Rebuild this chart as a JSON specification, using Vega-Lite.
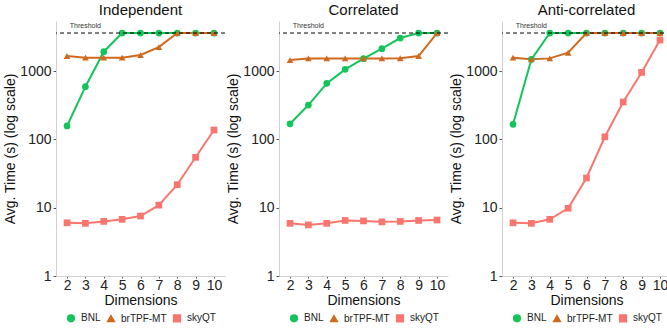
{
  "$schema": "https://vega.github.io/schema/vega-lite/v6.json",
  "padding": {"left": 3, "top": 3, "right": 0, "bottom": 0},
  "background": "white",
  "config": {
    "font": "Liberation Sans",
    "view": {"stroke": null},
    "concat": {"spacing": 0},
    "axis": {"grid": false, "domainColor": "#d0d0d0", "tickColor": "#555", "tickSize": 3, "labelFontSize": 14, "labelColor": "#222", "titleFontSize": 14, "titleFontWeight": "normal", "titleColor": "#111"},
    "axisX": {"tickSize": 2, "labelPadding": 0, "titlePadding": 1},
    "axisY": {"labelPadding": 2, "titlePadding": 2},
    "title": {"fontSize": 15, "fontWeight": "normal", "color": "#111", "offset": 3},
    "legend": {"title": null, "orient": "none", "direction": "horizontal", "legendX": 10, "legendY": 292, "labelFontSize": 10, "symbolSize": 45, "labelColor": "#222", "columnPadding": 3, "labelOffset": 5}
  },
  "datasets": {
    "times": [
      {"dist": "Independent", "dim": 2, "algo": "BNL", "time": 157},
      {"dist": "Independent", "dim": 3, "algo": "BNL", "time": 590},
      {"dist": "Independent", "dim": 4, "algo": "BNL", "time": 1920},
      {"dist": "Independent", "dim": 5, "algo": "BNL", "time": 3600},
      {"dist": "Independent", "dim": 6, "algo": "BNL", "time": 3600},
      {"dist": "Independent", "dim": 7, "algo": "BNL", "time": 3600},
      {"dist": "Independent", "dim": 8, "algo": "BNL", "time": 3600},
      {"dist": "Independent", "dim": 9, "algo": "BNL", "time": 3600},
      {"dist": "Independent", "dim": 10, "algo": "BNL", "time": 3600},
      {"dist": "Independent", "dim": 2, "algo": "brTPF-MT", "time": 1660},
      {"dist": "Independent", "dim": 3, "algo": "brTPF-MT", "time": 1570},
      {"dist": "Independent", "dim": 4, "algo": "brTPF-MT", "time": 1570},
      {"dist": "Independent", "dim": 5, "algo": "brTPF-MT", "time": 1570},
      {"dist": "Independent", "dim": 6, "algo": "brTPF-MT", "time": 1715},
      {"dist": "Independent", "dim": 7, "algo": "brTPF-MT", "time": 2245},
      {"dist": "Independent", "dim": 8, "algo": "brTPF-MT", "time": 3600},
      {"dist": "Independent", "dim": 9, "algo": "brTPF-MT", "time": 3600},
      {"dist": "Independent", "dim": 10, "algo": "brTPF-MT", "time": 3600},
      {"dist": "Independent", "dim": 2, "algo": "skyQT", "time": 6.0},
      {"dist": "Independent", "dim": 3, "algo": "skyQT", "time": 5.9},
      {"dist": "Independent", "dim": 4, "algo": "skyQT", "time": 6.3},
      {"dist": "Independent", "dim": 5, "algo": "skyQT", "time": 6.75},
      {"dist": "Independent", "dim": 6, "algo": "skyQT", "time": 7.55},
      {"dist": "Independent", "dim": 7, "algo": "skyQT", "time": 10.9},
      {"dist": "Independent", "dim": 8, "algo": "skyQT", "time": 21.7},
      {"dist": "Independent", "dim": 9, "algo": "skyQT", "time": 54.6},
      {"dist": "Independent", "dim": 10, "algo": "skyQT", "time": 137},
      {"dist": "Correlated", "dim": 2, "algo": "BNL", "time": 169},
      {"dist": "Correlated", "dim": 3, "algo": "BNL", "time": 318},
      {"dist": "Correlated", "dim": 4, "algo": "BNL", "time": 660},
      {"dist": "Correlated", "dim": 5, "algo": "BNL", "time": 1058},
      {"dist": "Correlated", "dim": 6, "algo": "BNL", "time": 1515},
      {"dist": "Correlated", "dim": 7, "algo": "BNL", "time": 2123},
      {"dist": "Correlated", "dim": 8, "algo": "BNL", "time": 3041},
      {"dist": "Correlated", "dim": 9, "algo": "BNL", "time": 3600},
      {"dist": "Correlated", "dim": 10, "algo": "BNL", "time": 3600},
      {"dist": "Correlated", "dim": 2, "algo": "brTPF-MT", "time": 1449},
      {"dist": "Correlated", "dim": 3, "algo": "brTPF-MT", "time": 1532},
      {"dist": "Correlated", "dim": 4, "algo": "brTPF-MT", "time": 1532},
      {"dist": "Correlated", "dim": 5, "algo": "brTPF-MT", "time": 1532},
      {"dist": "Correlated", "dim": 6, "algo": "brTPF-MT", "time": 1532},
      {"dist": "Correlated", "dim": 7, "algo": "brTPF-MT", "time": 1532},
      {"dist": "Correlated", "dim": 8, "algo": "brTPF-MT", "time": 1540},
      {"dist": "Correlated", "dim": 9, "algo": "brTPF-MT", "time": 1660},
      {"dist": "Correlated", "dim": 10, "algo": "brTPF-MT", "time": 3600},
      {"dist": "Correlated", "dim": 2, "algo": "skyQT", "time": 5.9},
      {"dist": "Correlated", "dim": 3, "algo": "skyQT", "time": 5.6},
      {"dist": "Correlated", "dim": 4, "algo": "skyQT", "time": 5.9},
      {"dist": "Correlated", "dim": 5, "algo": "skyQT", "time": 6.5},
      {"dist": "Correlated", "dim": 6, "algo": "skyQT", "time": 6.4},
      {"dist": "Correlated", "dim": 7, "algo": "skyQT", "time": 6.2},
      {"dist": "Correlated", "dim": 8, "algo": "skyQT", "time": 6.3},
      {"dist": "Correlated", "dim": 9, "algo": "skyQT", "time": 6.5},
      {"dist": "Correlated", "dim": 10, "algo": "skyQT", "time": 6.6},
      {"dist": "Anti-correlated", "dim": 2, "algo": "BNL", "time": 166},
      {"dist": "Anti-correlated", "dim": 3, "algo": "BNL", "time": 1482},
      {"dist": "Anti-correlated", "dim": 4, "algo": "BNL", "time": 3600},
      {"dist": "Anti-correlated", "dim": 5, "algo": "BNL", "time": 3600},
      {"dist": "Anti-correlated", "dim": 6, "algo": "BNL", "time": 3600},
      {"dist": "Anti-correlated", "dim": 7, "algo": "BNL", "time": 3600},
      {"dist": "Anti-correlated", "dim": 8, "algo": "BNL", "time": 3600},
      {"dist": "Anti-correlated", "dim": 9, "algo": "BNL", "time": 3600},
      {"dist": "Anti-correlated", "dim": 10, "algo": "BNL", "time": 3600},
      {"dist": "Anti-correlated", "dim": 2, "algo": "brTPF-MT", "time": 1567},
      {"dist": "Anti-correlated", "dim": 3, "algo": "brTPF-MT", "time": 1482},
      {"dist": "Anti-correlated", "dim": 4, "algo": "brTPF-MT", "time": 1532},
      {"dist": "Anti-correlated", "dim": 5, "algo": "brTPF-MT", "time": 1854},
      {"dist": "Anti-correlated", "dim": 6, "algo": "brTPF-MT", "time": 3600},
      {"dist": "Anti-correlated", "dim": 7, "algo": "brTPF-MT", "time": 3600},
      {"dist": "Anti-correlated", "dim": 8, "algo": "brTPF-MT", "time": 3600},
      {"dist": "Anti-correlated", "dim": 9, "algo": "brTPF-MT", "time": 3600},
      {"dist": "Anti-correlated", "dim": 10, "algo": "brTPF-MT", "time": 3600},
      {"dist": "Anti-correlated", "dim": 2, "algo": "skyQT", "time": 6.0},
      {"dist": "Anti-correlated", "dim": 3, "algo": "skyQT", "time": 5.9},
      {"dist": "Anti-correlated", "dim": 4, "algo": "skyQT", "time": 6.75},
      {"dist": "Anti-correlated", "dim": 5, "algo": "skyQT", "time": 9.8},
      {"dist": "Anti-correlated", "dim": 6, "algo": "skyQT", "time": 27.2},
      {"dist": "Anti-correlated", "dim": 7, "algo": "skyQT", "time": 109},
      {"dist": "Anti-correlated", "dim": 8, "algo": "skyQT", "time": 352},
      {"dist": "Anti-correlated", "dim": 9, "algo": "skyQT", "time": 955},
      {"dist": "Anti-correlated", "dim": 10, "algo": "skyQT", "time": 2842}
    ],
    "threshold": [{"limit": 3600, "dim": 3, "label": "Threshold"}]
  },
  "resolve": {"legend": {"color": "independent", "shape": "independent"}, "scale": {"color": "independent", "shape": "independent"}},
  "hconcat": [
    {
      "title": "Independent",
      "width": 169, "height": 255,
      "layer": [
        {"data": {"name": "times"}, "transform": [{"filter": "datum.dist === 'Independent'"}],
         "mark": {"type": "line", "strokeWidth": 2},
         "encoding": {
          "x": {"field": "dim", "type": "quantitative", "scale": {"domain": [1.4, 10.6], "nice": false, "zero": false}, "axis": {"values": [2,3,4,5,6,7,8,9,10], "labelOverlap": false, "title": "Dimensions"}},
          "y": {"field": "time", "type": "quantitative", "scale": {"type": "log", "domain": [1, 5400], "nice": false}, "axis": {"values": [1,10,100,1000], "format": "d", "title": "Avg. Time (s) (log scale)"}},
          "color": {"field": "algo", "type": "nominal", "scale": {"domain": ["BNL","brTPF-MT","skyQT"], "range": ["#13C45A","#D0691E","#F8766D"]}}}},
        {"data": {"name": "times"}, "transform": [{"filter": "datum.dist === 'Independent'"}],
         "mark": {"type": "point", "filled": true, "opacity": 1, "size": 45},
         "encoding": {
          "x": {"field": "dim", "type": "quantitative", "axis": {"values": [2,3,4,5,6,7,8,9,10], "labelOverlap": false, "title": "Dimensions"}},
          "y": {"field": "time", "type": "quantitative", "axis": {"values": [1,10,100,1000], "format": "d", "title": "Avg. Time (s) (log scale)"}},
          "color": {"field": "algo", "type": "nominal"},
          "shape": {"field": "algo", "type": "nominal", "scale": {"domain": ["BNL","brTPF-MT","skyQT"], "range": ["circle","triangle-up","square"]}}}},
        {"data": {"name": "threshold"}, "mark": {"type": "rule", "strokeDash": [4, 3], "color": "black", "strokeWidth": 1}, "encoding": {"y": {"field": "limit", "type": "quantitative", "axis": {"values": [1,10,100,1000], "format": "d", "title": "Avg. Time (s) (log scale)"}}}},
        {"data": {"name": "threshold"}, "mark": {"type": "text", "fontSize": 7, "color": "#333", "dy": -7}, "encoding": {"x": {"field": "dim", "type": "quantitative", "axis": {"values": [2,3,4,5,6,7,8,9,10], "labelOverlap": false, "title": "Dimensions"}}, "y": {"field": "limit", "type": "quantitative", "axis": {"values": [1,10,100,1000], "format": "d", "title": "Avg. Time (s) (log scale)"}}, "text": {"field": "label"}}}
      ]
    },
    {
      "title": "Correlated",
      "width": 169, "height": 255,
      "layer": [
        {"data": {"name": "times"}, "transform": [{"filter": "datum.dist === 'Correlated'"}],
         "mark": {"type": "line", "strokeWidth": 2},
         "encoding": {
          "x": {"field": "dim", "type": "quantitative", "scale": {"domain": [1.4, 10.6], "nice": false, "zero": false}, "axis": {"values": [2,3,4,5,6,7,8,9,10], "labelOverlap": false, "title": "Dimensions"}},
          "y": {"field": "time", "type": "quantitative", "scale": {"type": "log", "domain": [1, 5400], "nice": false}, "axis": {"values": [1,10,100,1000], "format": "d", "title": "Avg. Time (s) (log scale)"}},
          "color": {"field": "algo", "type": "nominal", "scale": {"domain": ["BNL","brTPF-MT","skyQT"], "range": ["#13C45A","#D0691E","#F8766D"]}}}},
        {"data": {"name": "times"}, "transform": [{"filter": "datum.dist === 'Correlated'"}],
         "mark": {"type": "point", "filled": true, "opacity": 1, "size": 45},
         "encoding": {
          "x": {"field": "dim", "type": "quantitative", "axis": {"values": [2,3,4,5,6,7,8,9,10], "labelOverlap": false, "title": "Dimensions"}},
          "y": {"field": "time", "type": "quantitative", "axis": {"values": [1,10,100,1000], "format": "d", "title": "Avg. Time (s) (log scale)"}},
          "color": {"field": "algo", "type": "nominal"},
          "shape": {"field": "algo", "type": "nominal", "scale": {"domain": ["BNL","brTPF-MT","skyQT"], "range": ["circle","triangle-up","square"]}}}},
        {"data": {"name": "threshold"}, "mark": {"type": "rule", "strokeDash": [4, 3], "color": "black", "strokeWidth": 1}, "encoding": {"y": {"field": "limit", "type": "quantitative", "axis": {"values": [1,10,100,1000], "format": "d", "title": "Avg. Time (s) (log scale)"}}}},
        {"data": {"name": "threshold"}, "mark": {"type": "text", "fontSize": 7, "color": "#333", "dy": -7}, "encoding": {"x": {"field": "dim", "type": "quantitative", "axis": {"values": [2,3,4,5,6,7,8,9,10], "labelOverlap": false, "title": "Dimensions"}}, "y": {"field": "limit", "type": "quantitative", "axis": {"values": [1,10,100,1000], "format": "d", "title": "Avg. Time (s) (log scale)"}}, "text": {"field": "label"}}}
      ]
    },
    {
      "title": "Anti-correlated",
      "width": 169, "height": 255,
      "layer": [
        {"data": {"name": "times"}, "transform": [{"filter": "datum.dist === 'Anti-correlated'"}],
         "mark": {"type": "line", "strokeWidth": 2},
         "encoding": {
          "x": {"field": "dim", "type": "quantitative", "scale": {"domain": [1.4, 10.6], "nice": false, "zero": false}, "axis": {"values": [2,3,4,5,6,7,8,9,10], "labelOverlap": false, "title": "Dimensions"}},
          "y": {"field": "time", "type": "quantitative", "scale": {"type": "log", "domain": [1, 5400], "nice": false}, "axis": {"values": [1,10,100,1000], "format": "d", "title": "Avg. Time (s) (log scale)"}},
          "color": {"field": "algo", "type": "nominal", "scale": {"domain": ["BNL","brTPF-MT","skyQT"], "range": ["#13C45A","#D0691E","#F8766D"]}}}},
        {"data": {"name": "times"}, "transform": [{"filter": "datum.dist === 'Anti-correlated'"}],
         "mark": {"type": "point", "filled": true, "opacity": 1, "size": 45},
         "encoding": {
          "x": {"field": "dim", "type": "quantitative", "axis": {"values": [2,3,4,5,6,7,8,9,10], "labelOverlap": false, "title": "Dimensions"}},
          "y": {"field": "time", "type": "quantitative", "axis": {"values": [1,10,100,1000], "format": "d", "title": "Avg. Time (s) (log scale)"}},
          "color": {"field": "algo", "type": "nominal"},
          "shape": {"field": "algo", "type": "nominal", "scale": {"domain": ["BNL","brTPF-MT","skyQT"], "range": ["circle","triangle-up","square"]}}}},
        {"data": {"name": "threshold"}, "mark": {"type": "rule", "strokeDash": [4, 3], "color": "black", "strokeWidth": 1}, "encoding": {"y": {"field": "limit", "type": "quantitative", "axis": {"values": [1,10,100,1000], "format": "d", "title": "Avg. Time (s) (log scale)"}}}},
        {"data": {"name": "threshold"}, "mark": {"type": "text", "fontSize": 7, "color": "#333", "dy": -7}, "encoding": {"x": {"field": "dim", "type": "quantitative", "axis": {"values": [2,3,4,5,6,7,8,9,10], "labelOverlap": false, "title": "Dimensions"}}, "y": {"field": "limit", "type": "quantitative", "axis": {"values": [1,10,100,1000], "format": "d", "title": "Avg. Time (s) (log scale)"}}, "text": {"field": "label"}}}
      ]
    }
  ]
}
